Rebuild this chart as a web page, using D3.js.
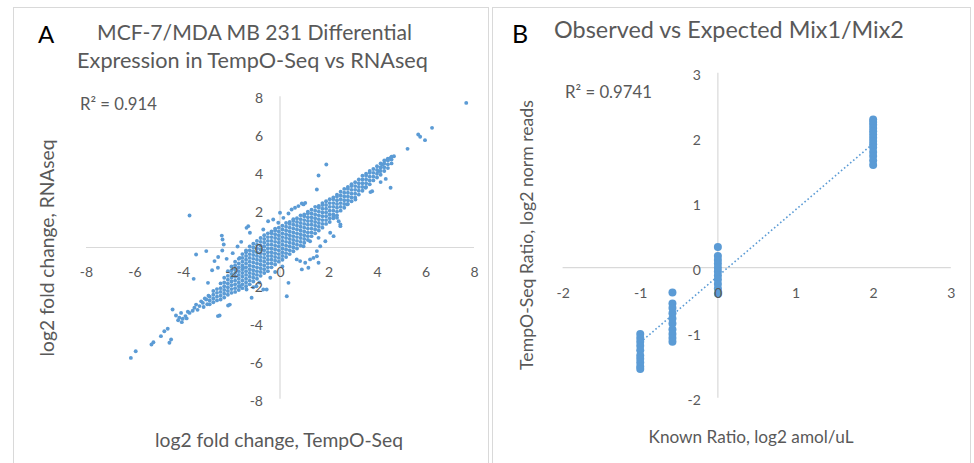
<!DOCTYPE html>
<html>
<head>
<meta charset="utf-8">
<script src="https://cdn.jsdelivr.net/npm/d3@7"></script>
<style>
  body { margin: 0; background: #fff; }
  svg text { font-family: Lato, "Open Sans", sans-serif; fill: #595959; }
</style>
</head>
<body>
<svg id="chart" width="974" height="463"></svg>
<script>
// ---- panel A : log2 fold change, TempO-Seq (x) vs RNAseq (y) ----
const foldTicks = [-8, -6, -4, -2, 0, 2, 4, 6, 8];

// dense part of the cloud, one entry per TempO-Seq value: [x, [RNAseq values]]
const foldCore = [
  [-2.9, [-3.0, -2.8, -2.6]],
  [-2.75, [-2.9, -2.7, -2.5, -2.3]],
  [-2.6, [-2.8, -2.6, -2.4, -2.2]],
  [-2.45, [-2.75, -2.55, -2.35, -2.15, -1.9]],
  [-2.3, [-2.65, -2.45, -2.25, -2.05, -1.85, -1.6]],
  [-2.15, [-2.5, -2.3, -2.1, -1.9, -1.7, -1.5, -1.25]],
  [-2.0, [-2.4, -2.2, -2.0, -1.8, -1.6, -1.4, -1.2, -1.0]],
  [-1.85, [-2.35, -2.15, -1.95, -1.75, -1.55, -1.35, -1.15, -0.95, -0.75]],
  [-1.7, [-2.25, -2.05, -1.85, -1.65, -1.45, -1.25, -1.05, -0.85, -0.6]],
  [-1.55, [-2.15, -1.95, -1.75, -1.55, -1.35, -1.15, -0.95, -0.75, -0.55, -0.35]],
  [-1.4, [-2.05, -1.85, -1.65, -1.45, -1.25, -1.05, -0.85, -0.65, -0.45, -0.25, -0.15]],
  [-1.25, [-1.95, -1.75, -1.55, -1.35, -1.15, -0.95, -0.75, -0.55, -0.35, -0.15, 0.05]],
  [-1.1, [-1.8, -1.6, -1.4, -1.2, -1.0, -0.8, -0.6, -0.4, -0.2, 0.0, 0.2]],
  [-0.95, [-1.65, -1.45, -1.25, -1.05, -0.85, -0.65, -0.45, -0.25, -0.05, 0.15, 0.35]],
  [-0.8, [-1.5, -1.3, -1.1, -0.9, -0.7, -0.5, -0.3, -0.1, 0.1, 0.3, 0.5]],
  [-0.65, [-1.35, -1.15, -0.95, -0.75, -0.55, -0.35, -0.15, 0.05, 0.25, 0.45, 0.65]],
  [-0.5, [-1.25, -1.05, -0.85, -0.65, -0.45, -0.25, -0.05, 0.15, 0.35, 0.55, 0.75]],
  [-0.35, [-1.05, -0.85, -0.65, -0.45, -0.25, -0.05, 0.15, 0.35, 0.55, 0.75, 0.85]],
  [-0.2, [-0.9, -0.7, -0.5, -0.3, -0.1, 0.1, 0.3, 0.5, 0.7, 0.9, 1.0]],
  [-0.05, [-0.75, -0.55, -0.35, -0.15, 0.05, 0.25, 0.45, 0.65, 0.85, 1.05]],
  [0.1, [-0.65, -0.45, -0.25, -0.05, 0.15, 0.35, 0.55, 0.75, 0.95, 1.15]],
  [0.25, [-0.5, -0.3, -0.1, 0.1, 0.3, 0.5, 0.7, 0.9, 1.1, 1.3]],
  [0.4, [-0.35, -0.15, 0.05, 0.25, 0.45, 0.65, 0.85, 1.05, 1.25, 1.35]],
  [0.55, [-0.2, 0.0, 0.2, 0.4, 0.6, 0.8, 1.0, 1.2, 1.4, 1.5]],
  [0.7, [-0.05, 0.15, 0.35, 0.55, 0.75, 0.95, 1.15, 1.35, 1.55]],
  [0.85, [0.1, 0.3, 0.5, 0.7, 0.9, 1.1, 1.3, 1.5, 1.7]],
  [1.0, [0.25, 0.45, 0.65, 0.85, 1.05, 1.25, 1.45, 1.65, 1.75]],
  [1.15, [0.4, 0.6, 0.8, 1.0, 1.2, 1.4, 1.6, 1.8, 1.9]],
  [1.3, [0.6, 0.8, 1.0, 1.2, 1.4, 1.6, 1.8, 2.0]],
  [1.45, [0.75, 0.95, 1.15, 1.35, 1.55, 1.75, 1.95, 2.15]],
  [1.6, [0.9, 1.1, 1.3, 1.5, 1.7, 1.9, 2.1, 2.2]],
  [1.75, [1.05, 1.25, 1.45, 1.65, 1.85, 2.05, 2.25, 2.35]],
  [1.9, [1.25, 1.45, 1.65, 1.85, 2.05, 2.25, 2.45]],
  [2.05, [1.35, 1.55, 1.75, 1.95, 2.15, 2.35, 2.55]],
  [2.2, [1.55, 1.75, 1.95, 2.15, 2.35, 2.55, 2.65]],
  [2.35, [1.7, 1.9, 2.1, 2.3, 2.5, 2.7, 2.8]],
  [2.5, [1.95, 2.15, 2.35, 2.55, 2.75, 2.95]],
  [2.65, [2.1, 2.3, 2.5, 2.7, 2.9, 3.1]],
  [2.8, [2.3, 2.5, 2.7, 2.9, 3.1, 3.2]],
  [2.95, [2.45, 2.65, 2.85, 3.05, 3.25, 3.35]],
  [3.1, [2.65, 2.85, 3.05, 3.25, 3.45]],
  [3.25, [2.8, 3.0, 3.2, 3.4, 3.6]],
  [3.4, [3.0, 3.2, 3.4, 3.6, 3.8]],
  [3.55, [3.2, 3.4, 3.6, 3.8, 3.9]],
  [3.7, [3.35, 3.55, 3.75, 3.95, 4.05]],
  [3.85, [3.55, 3.75, 3.95, 4.15]],
  [4.0, [3.7, 3.9, 4.1, 4.3]],
  [4.15, [3.85, 4.05, 4.25, 4.45]],
  [4.3, [4.05, 4.25, 4.45, 4.6]],
  [4.45, [4.2, 4.4, 4.6, 4.7]],
  [4.6, [4.45, 4.65, 4.8]]
];

// scattered genes outside the dense band: [TempO-Seq, RNAseq]
const foldScatter = [
  [7.68, 7.65], [6.27, 6.33], [5.7, 5.98], [5.78, 5.86], [5.98, 5.68], [5.26, 5.22],
  [4.7, 4.83], [4.56, 4.74], [4.43, 4.66], [4.22, 4.39], [4.15, 4.22], [4.08, 4.04],
  [4.56, 3.16], [4.36, 3.63], [4.15, 3.46], [3.8, 2.98], [3.53, 3.16], [3.73, 2.93],
  [3.11, 2.54], [2.77, 2.28], [2.21, 1.66], [2.42, 1.39], [2.49, 1.22], [2.35, 1.57],
  [2.49, 1.13], [2.07, 0.78], [2.21, 0.6], [1.87, 0.33], [1.66, 0.07], [1.52, -0.19],
  [1.38, -0.55], [1.24, -0.63], [1.04, -0.81], [0.83, -0.72], [0.69, -0.63], [1.17, -1.07],
  [0.9, -1.16], [1.52, -0.46], [1.59, -0.81], [1.59, 0.51], [1.24, 0.33], [0.97, 0.07],
  [0.35, -1.87], [0.28, -2.58], [-0.55, -2.22], [-0.69, -2.22], [-1.17, -2.66],
  [-1.66, -2.05], [-1.38, -2.22], [-0.97, -2.05], [-0.4, -1.6], [-0.2, -1.3], [0.1, -1.0],
  [-0.85, -1.85], [-1.1, -2.1],
  [1.91, 4.39], [1.59, 3.81], [1.52, 3.07], [0.97, 2.28], [0.76, 2.19], [0.62, 2.1],
  [0.9, 2.33], [1.04, 2.36], [0.0, 1.84], [0.14, 1.57], [0.35, 1.8], [0.48, 2.01],
  [-0.07, 1.31], [-0.28, 1.48], [-0.49, 1.39], [-0.69, 0.95], [-1.31, 1.13], [-1.24, 0.78],
  [-1.38, 1.04], [-3.73, 1.69], [-2.4, 0.63], [-2.37, 0.42], [-2.32, 0.16], [-2.38, -0.16],
  [-3.46, -0.37], [-3.04, -0.19], [-2.7, -0.72], [-2.56, -1.07], [-1.66, -0.55],
  [-1.52, -1.07], [-3.56, -1.66], [-2.97, -1.87], [-2.8, -1.2], [-2.55, -0.5], [-2.2, -0.6],
  [-1.95, -0.3], [-1.75, 0.05], [-1.6, 0.3],
  [-2.49, -3.6], [-2.14, -3.07], [-2.56, -3.63], [-2.07, -3.02],
  [-2.95, -2.55], [-3.1, -2.7], [-3.25, -2.85], [-3.0, -3.0], [-3.4, -3.3], [-3.6, -3.35],
  [-3.15, -3.15], [-3.8, -3.4], [-3.85, -3.75], [-4.2, -3.85], [-4.05, -3.95],
  [-3.04, -2.75], [-3.18, -2.93], [-3.32, -3.1], [-3.46, -3.02], [-3.53, -3.19],
  [-3.73, -3.46], [-4.08, -3.46], [-3.9, -3.63], [-4.01, -3.77], [-4.15, -3.72],
  [-4.29, -3.6], [-4.43, -3.28], [-4.63, -4.3], [-4.77, -4.43], [-4.91, -4.69],
  [-4.56, -5.04], [-4.49, -4.87], [-5.22, -5.01], [-5.3, -5.13], [-5.95, -5.49], [-6.15, -5.84]
];

// ---- panel B : known vs observed Mix1/Mix2 ratio ----
const ratioXTicks = [-2, -1, 0, 1, 2, 3];
const ratioYTicks = [-2, -1, 0, 1, 2, 3];
const knownRatio = [-1, -0.585, 0, 2];
const observedRatio = [
  [-1.02, -1.08, -1.14, -1.2, -1.27, -1.35, -1.4, -1.46, -1.52, -1.56],
  [-0.38, -0.55, -0.62, -0.7, -0.78, -0.86, -0.95, -1.02, -1.08, -1.14],
  [0.32, 0.18, 0.12, 0.06, 0.0, -0.06, -0.12, -0.18, -0.25, -0.32, -0.4],
  [2.28, 2.24, 2.2, 2.15, 2.1, 2.05, 2.0, 1.95, 1.9, 1.85, 1.78, 1.72, 1.65, 1.58]
];
const ratioTrend = { slope: 1.02, intercept: -0.13 };   // Excel linear trendline

const blue = '#5b9bd5';
const axisGrey = '#d9d9d9';

const svg = d3.select('#chart');

// scale a label so that it is as wide as in the original
function fitWidth(text, width) {
  const w = text.node().getComputedTextLength();
  text.attr('font-size', parseFloat(text.attr('font-size')) * width / w);
}

function addText(x, y, str, size, width, anchor) {
  const t = svg.append('text')
    .attr('x', x)
    .attr('y', y)
    .attr('font-size', size)
    .attr('text-anchor', anchor || 'middle')
    .text(str);
  if (width) fitWidth(t, width);
  return t;
}

function addYTitle(cx, cy, str, width) {
  const t = svg.append('text')
    .attr('transform', `translate(${cx},${cy}) rotate(-90)`)
    .attr('dy', '0.35em')
    .attr('font-size', 18)
    .attr('text-anchor', 'middle')
    .text(str);
  fitWidth(t, width);
}

// panel frames
svg.append('rect').attr('x', 13.5).attr('y', 7.5).attr('width', 475).attr('height', 470)
  .attr('fill', 'none').attr('stroke', axisGrey);
svg.append('rect').attr('x', 492.5).attr('y', 7.5).attr('width', 478).attr('height', 470)
  .attr('fill', 'none').attr('stroke', axisGrey);

function drawAxes(x, y) {
  const lines = svg.append('g').attr('stroke', axisGrey).attr('stroke-width', 1.2);
  lines.append('line')
    .attr('x1', x.range()[0]).attr('x2', x.range()[1])
    .attr('y1', y(0)).attr('y2', y(0));
  lines.append('line')
    .attr('x1', x(0)).attr('x2', x(0))
    .attr('y1', y.range()[0]).attr('y2', y.range()[1]);
}

function drawTickLabels(x, y, xTicks, yTicks) {
  const xAxis = svg.append('g')
    .attr('transform', `translate(0,${y(0)})`)
    .call(d3.axisBottom(x).tickValues(xTicks).tickSize(0).tickPadding(20).tickFormat(d => String(d)));
  const yAxis = svg.append('g')
    .attr('transform', `translate(${x(0)},0)`)
    .call(d3.axisLeft(y).tickValues(yTicks).tickSize(0).tickPadding(17).tickFormat(d => String(d)));
  [xAxis, yAxis].forEach(g => {
    g.select('.domain').remove();
    g.attr('font-family', null).attr('font-size', null);
    g.selectAll('text').attr('font-size', 14).attr('fill', '#595959');
  });
  yAxis.selectAll('text').attr('dy', '0.45em');
}

// ---------- panel A ----------
const xA = d3.scaleLinear().domain([-8, 8]).range([86, 474]);
const yA = d3.scaleLinear().domain([-8, 8]).range([398.7, 96.3]);

drawAxes(xA, yA);

const corePoints = foldCore.flatMap(([x, ys]) => ys.map(y => [x, y]));
svg.append('g')
  .selectAll('circle')
  .data(corePoints.concat(foldScatter))
  .join('circle')
  .attr('cx', d => xA(d[0]))
  .attr('cy', d => yA(d[1]))
  .attr('r', 1.95)
  .attr('fill', blue);

drawTickLabels(xA, yA, foldTicks, foldTicks);

addText(38, 43, 'A', 24, null, 'start').style('fill', '#000');
addText(254.5, 40, 'MCF-7/MDA MB 231 Differential', 21, 315);
addText(252.5, 68, 'Expression in TempO-Seq vs RNAseq', 21, 351);
addText(80, 110, 'R² = 0.914', 15, 77, 'start');
addText(279, 447, 'log2 fold change, TempO-Seq', 18, 248);
addYTitle(47, 248, 'log2 fold change, RNAseq', 217);

// ---------- panel B ----------
const xB = d3.scaleLinear().domain([-2, 3]).range([562.6, 950.8]);
const yB = d3.scaleLinear().domain([-2, 3]).range([397.7, 72.7]);

drawAxes(xB, yB);

const ratioPoints = knownRatio.flatMap((k, i) => observedRatio[i].map(o => [k, o]));
svg.append('g')
  .selectAll('circle')
  .data(ratioPoints)
  .join('circle')
  .attr('cx', d => xB(d[0]))
  .attr('cy', d => yB(d[1]))
  .attr('r', 4)
  .attr('fill', blue);

const trendX = d3.extent(knownRatio);
svg.append('line')
  .attr('x1', xB(trendX[0]))
  .attr('y1', yB(ratioTrend.slope * trendX[0] + ratioTrend.intercept))
  .attr('x2', xB(trendX[1]))
  .attr('y2', yB(ratioTrend.slope * trendX[1] + ratioTrend.intercept))
  .attr('stroke', blue)
  .attr('stroke-width', 1.6)
  .attr('stroke-dasharray', '1.6 2.4');

drawTickLabels(xB, yB, ratioXTicks, ratioYTicks);

addText(512, 43, 'B', 25, null, 'start').style('fill', '#000');
addText(729, 37.5, 'Observed vs Expected Mix1/Mix2', 21, 350);
addText(565, 98, 'R² = 0.9741', 15, 87, 'start');
addText(751, 443, 'Known Ratio, log2 amol/uL', 17, 205);
addYTitle(527, 235, 'TempO-Seq Ratio, log2 norm reads', 270);
</script>
</body>
</html>
